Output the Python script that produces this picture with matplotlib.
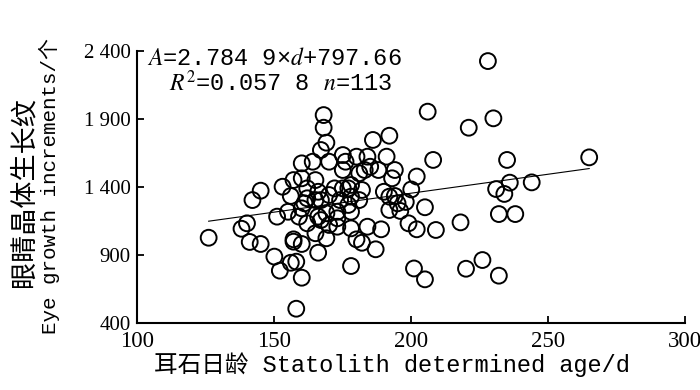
"""Statolith age vs eye growth increments scatter."""
import matplotlib
matplotlib.use('Agg')
import matplotlib.pyplot as plt

plt.rcParams['mathtext.fontset'] = 'stix'

# data
age = [126, 138, 140, 141, 145, 142, 145, 150, 152, 156,
       158, 160, 158, 151, 153, 156, 157, 155, 157, 157,
       160, 160, 164, 160, 162, 160, 159, 162, 165, 166,
       167, 166, 167, 165, 166, 169, 170, 169, 167, 169,
       168, 168, 170, 172, 173, 173, 173, 175, 176, 175,
       175, 177, 178, 178, 177, 178, 178, 178, 180, 181,
       182, 183, 184, 180, 182, 184, 185, 186, 188, 187,
       189, 191, 192, 190, 192, 192, 193, 194, 194, 195,
       196, 198, 199, 200, 202, 201, 202, 205, 206, 208,
       209, 205, 218, 221, 220, 226, 228, 230, 231, 232,
       232, 234, 235, 236, 238, 244, 265, 162, 165, 161,
       174, 170, 181]
increments = [1027, 1093, 1133, 996, 981, 1304, 1373, 888, 785, 843,
              851, 733, 505, 1182, 1402, 1334, 1451, 1218, 1015, 998,
              981, 1574, 1586, 1464, 1317, 1243, 1182, 1133, 1451, 1365,
              1304, 1182, 1157, 1060, 917, 1023, 1121, 1207, 1672, 1726,
              1836, 1929, 1586, 1390, 1218, 1170, 1108, 1635, 1586, 1525,
              1390, 1390, 1415, 1329, 1268, 1218, 1096, 819, 1623, 1501,
              1378, 1525, 1108, 1015, 990, 1623, 1549, 1746, 1525, 942,
              1089, 1623, 1777, 1365, 1329, 1231, 1464, 1525, 1334, 1280,
              1224, 1290, 1133, 1382, 1477, 801, 1089, 1251, 1954, 1599,
              1084, 721, 1140, 1836, 799, 863, 2326, 1905, 1385, 748,
              1201, 1349, 1599, 1432, 1201, 1434, 1618, 1390, 1304, 1280,
              1304, 1341, 1304]
slope, intercept = 2.7849, 797.66

x_ticks = [100, 150, 200, 250, 300]
y_ticks = [400, 900, 1400, 1900, 2400]
y_tick_labels = ['400', '900', '1 400', '1 900', '2 400']

fig = plt.figure(figsize=(7, 3.9), dpi=100)
ax = fig.add_axes([0.1964, 0.1718, 0.7822, 0.6974])

ax.scatter(age, increments, s=130, facecolors='none', edgecolors='black',
           linewidths=1.4, zorder=3)
x0, x1 = min(age), max(age)
ax.plot([x0, x1], [intercept + slope * x0, intercept + slope * x1],
        color='black', lw=0.8, zorder=2)

ax.set_xlim(100, 300)
ax.set_ylim(400, 2400)
ax.set_xticks(x_ticks)
ax.set_yticks(y_ticks)
ax.set_yticklabels(y_tick_labels)
for s in ['top', 'right']:
    ax.spines[s].set_visible(False)
for s in ['left', 'bottom']:
    ax.spines[s].set_linewidth(1.5)
ax.tick_params(direction='in', length=5, width=1.3)
ax.tick_params(axis='x', pad=6)
ax.tick_params(axis='y', pad=5)
for lab in ax.get_xticklabels():
    lab.set_fontfamily('Liberation Serif')
    lab.set_fontsize(16.5)
for lab in ax.get_yticklabels():
    lab.set_fontfamily('Liberation Serif')
    lab.set_fontsize(15)

mono = ['Liberation Mono', 'Noto Sans CJK SC']
ax.text(0.018, 0.972, r'$A$=2.784 9×$d$+797.66', transform=ax.transAxes,
        family=mono, fontsize=17, va='center', ha='left')
ax.text(0.058, 0.88, r'$R^2$=0.057 8 $n$=113', transform=ax.transAxes,
        family=mono, fontsize=17, va='center', ha='left')

fig.text(392 / 700, 1 - 365 / 390, '耳石日龄 Statolith determined age/d',
         family=mono, fontsize=17, ha='center', va='center')
fig.text(24 / 700, 1 - 192 / 390, '眼睛晶体生长纹', family=['Noto Sans CJK SC'],
         fontsize=19.5, rotation=90, ha='center', va='center')
fig.text(49 / 700, 1 - 186 / 390, 'Eye growth increments/个', family=mono,
         fontsize=15, rotation=90, ha='center', va='center')

fig.savefig('out.png', dpi=100, facecolor='white')
